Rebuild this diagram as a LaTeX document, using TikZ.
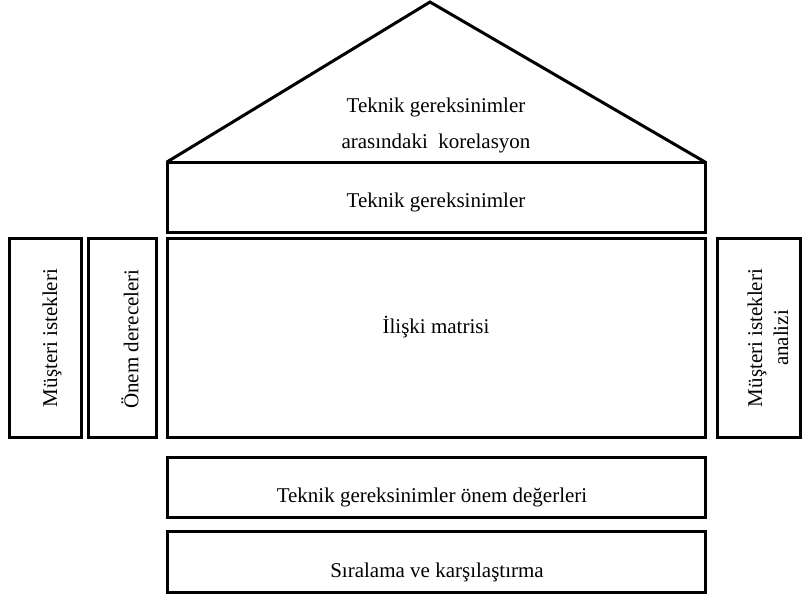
\documentclass[tikz,border=0pt]{standalone}
\usepackage{fontspec}
\setmainfont{Liberation Serif}
\begin{document}
\begin{tikzpicture}
[
x=1pt,y=-1pt,
box/.style={draw=black,line width=3pt,inner sep=0pt},
wide/.style={box,minimum width=538pt},
side/.style={box,minimum height=199pt},
txt/.style={inner sep=0pt,align=center,font=\fontsize{21}{26}\selectfont}
]
\useasboundingbox (0,0) rectangle (806,597);
% roof
\coordinate (apex) at (430,2);
\coordinate (roofl) at (167,162);
\coordinate (roofr) at (705,162);
\draw[line width=3pt,line join=miter] (roofl)--(apex)--(roofr);
\node[txt] (korel) at (436,125) {Teknik gereksinimler\\[10pt]arasındaki~~korelasyon};
% house body
\node[wide,minimum height=70pt] (teknik) at (436,197) {};
\node[txt] (tekniklbl) at (436,202) {Teknik gereksinimler};
\node[wide,minimum height=199pt] (matris) at (436,337.5) {};
\node[txt] (matrislbl) at (436,327) {İlişki matrisi};
\node[side,minimum width=72pt] (musteri) at (45,337.5) {};
\node[txt,rotate=90] (musterilbl) at (52,338) {Müşteri istekleri};
\node[side,minimum width=68pt] (onem) at (122,337.5) {};
\node[txt,rotate=90] (onemlbl) at (130,339) {Önem dereceleri};
\node[side,minimum width=83pt] (analiz) at (758.5,337.5) {};
\node[txt,rotate=90] (analizlbl) at (768,338) {Müşteri istekleri\\analizi};
% foundation
\node[wide,minimum height=60pt] (deger) at (436,487) {};
\node[txt] (degerlbl) at (432,497) {Teknik gereksinimler önem değerleri};
\node[wide,minimum height=61pt] (sira) at (436,561.5) {};
\node[txt] (siralbl) at (437,572) {Sıralama ve karşılaştırma};
\end{tikzpicture}
\end{document}
